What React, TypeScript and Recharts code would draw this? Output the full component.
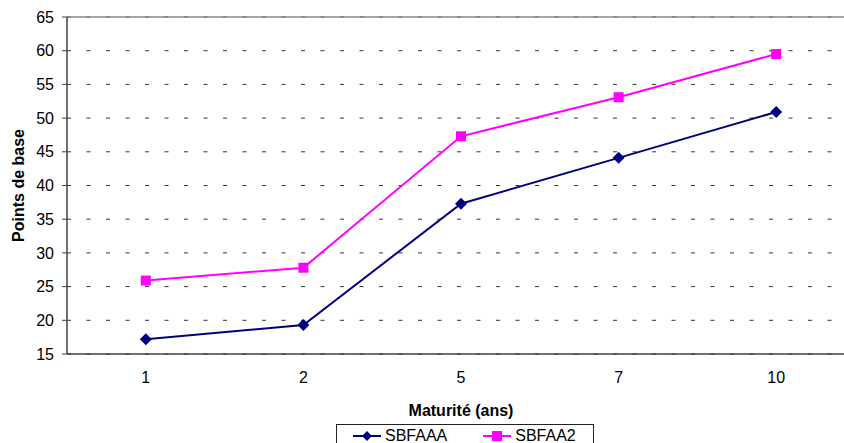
import {
  LineChart,
  Line,
  XAxis,
  YAxis,
  CartesianGrid,
  ReferenceLine,
  Label,
} from "recharts";

const maturities = ["1", "2", "5", "7", "10"];
const sbfaaa = [17.2, 19.3, 37.3, 44.1, 50.9];
const sbfaa2 = [25.9, 27.8, 47.3, 53.1, 59.5];
const yTicks = [15, 20, 25, 30, 35, 40, 45, 50, 55, 60, 65];
const bandTicks = [0, 1, 2, 3, 4, 5];

const data = maturities.map((m, i) => ({
  maturite: m,
  SBFAAA: sbfaaa[i],
  SBFAA2: sbfaa2[i],
}));

const NAVY = "#000080";
const MAGENTA = "#FF00FF";
const FONT = "'Liberation Sans', Arial, sans-serif";

function DiamondDot(props: any) {
  const { cx, cy, key } = props;
  if (cx == null || cy == null) return null;
  return (
    <path
      key={key}
      d={`M${cx},${cy - 6}L${cx + 6},${cy}L${cx},${cy + 6}L${cx - 6},${cy}Z`}
      fill={NAVY}
    />
  );
}

function SquareDot(props: any) {
  const { cx, cy, key } = props;
  if (cx == null || cy == null) return null;
  return <rect key={key} x={cx - 5} y={cy - 5} width={10} height={10} fill={MAGENTA} />;
}

function LegendItem({ color, square, text }: { color: string; square?: boolean; text: string }) {
  return (
    <div style={{ display: "flex", alignItems: "flex-start", height: 16 }}>
      <svg width={28} height={14} style={{ marginRight: 4, marginTop: 1 }}>
        <line x1={0} y1={7} x2={28} y2={7} stroke={color} strokeWidth={2} />
        {square ? (
          <rect x={9} y={2} width={10} height={10} fill={color} />
        ) : (
          <path d="M14,2L19,7L14,12L9,7Z" fill={color} />
        )}
      </svg>
      <span style={{ lineHeight: "16px" }}>{text}</span>
    </div>
  );
}

export default function App() {
  return (
    <div
      style={{
        position: "fixed",
        left: 0,
        top: 0,
        width: 844,
        height: 443,
        overflow: "hidden",
        background: "#fff",
        fontFamily: FONT,
      }}
    >
      <LineChart
        width={870}
        height={443}
        data={data}
        margin={{ top: 17, right: 15, left: 0, bottom: 0 }}
      >
        <CartesianGrid
          xAxisId="cat"
          vertical={false}
          stroke="#333"
          strokeDasharray="4 15.5"
        />
        <XAxis
          xAxisId="bounds"
          type="number"
          domain={[0, 5]}
          ticks={bandTicks}
          allowDataOverflow
          tick={false}
          axisLine={false}
          tickSize={6}
          tickLine={{ stroke: "#404040" }}
          height={0}
        />
        <XAxis
          xAxisId="cat"
          dataKey="maturite"
          scale="band"
          height={89}
          tickLine={false}
          tickSize={0}
          tickMargin={18}
          axisLine={{ stroke: "#404040", strokeWidth: 1.5 }}
          tick={{ fill: "#000", fontSize: 16, fontFamily: FONT }}
        >
          <Label
            value="Maturité (ans)"
            position="insideBottom"
            offset={27}
            style={{ fontSize: 16, fontWeight: "bold", fill: "#000", fontFamily: FONT }}
          />
        </XAxis>
        <YAxis
          domain={[15, 65]}
          ticks={yTicks}
          width={67}
          tickSize={5}
          tickMargin={8}
          axisLine={{ stroke: "#404040", strokeWidth: 1.5 }}
          tickLine={{ stroke: "#404040" }}
          tick={{ fill: "#000", fontSize: 16, fontFamily: FONT }}
        >
          <Label
            value="Points de base"
            angle={-90}
            position="insideLeft"
            offset={18}
            style={{
              textAnchor: "middle",
              fontSize: 16,
              fontWeight: "bold",
              fill: "#000",
              fontFamily: FONT,
            }}
          />
        </YAxis>
        <ReferenceLine xAxisId="cat" y={65} stroke="#888" strokeWidth={1.5} />
        <Line
          xAxisId="cat"
          dataKey="SBFAAA"
          stroke={NAVY}
          strokeWidth={2}
          dot={DiamondDot}
          isAnimationActive={false}
        />
        <Line
          xAxisId="cat"
          dataKey="SBFAA2"
          stroke={MAGENTA}
          strokeWidth={2}
          dot={SquareDot}
          isAnimationActive={false}
        />
      </LineChart>
      <div
        style={{
          position: "absolute",
          left: 336,
          top: 424,
          width: 258,
          height: 40,
          border: "1px solid #222",
          fontSize: 16,
          color: "#000",
          display: "flex",
          alignItems: "flex-start",
          gap: 36,
          paddingLeft: 16,
          paddingTop: 3,
          boxSizing: "border-box",
        }}
      >
        <LegendItem color={NAVY} text="SBFAAA" />
        <LegendItem color={MAGENTA} square text="SBFAA2" />
      </div>
    </div>
  );
}
